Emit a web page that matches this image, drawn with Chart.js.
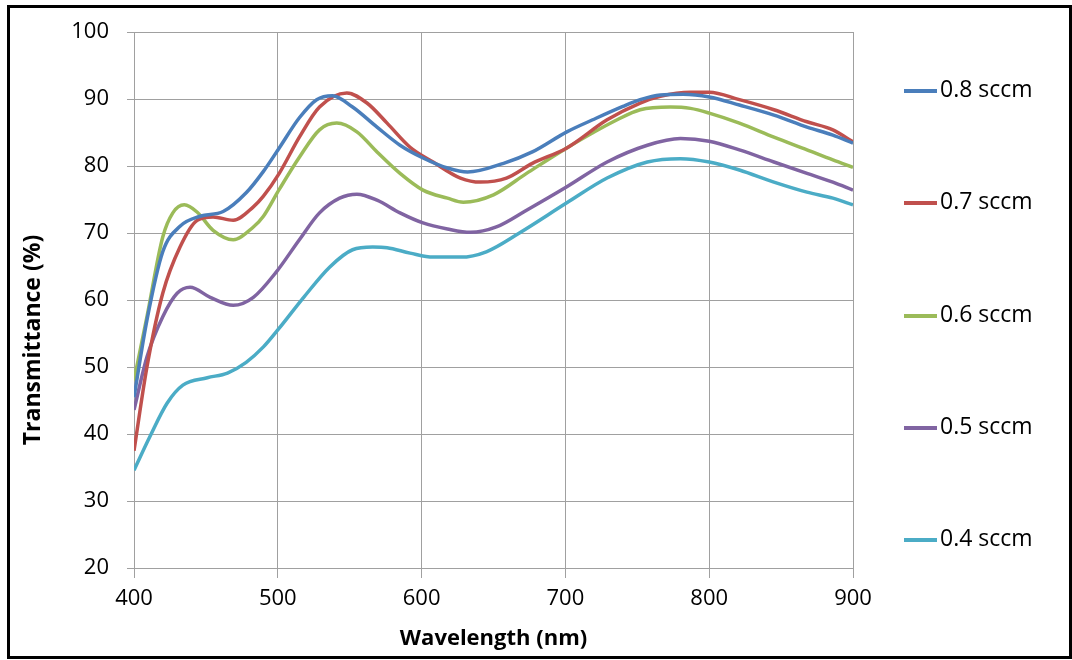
<!DOCTYPE html>
<html>
<head>
<meta charset="utf-8">
<script src="https://cdn.jsdelivr.net/npm/chart.js@4.4.1/dist/chart.umd.min.js"></script>
<style>
  body { margin: 0; background: #fff; font-family: "Open Sans", sans-serif; }
  #frame { position: absolute; left: 7px; top: 5px; width: 1059px; height: 648px; border: 3px solid #000; }
  #chart { position: absolute; left: 0; top: 0; }
  .leg { position: absolute; left: 904px; height: 30px; line-height: 30px; font-size: 23px; color: #000; white-space: nowrap; }
  .leg span.sw { display: inline-block; width: 33px; height: 4px; vertical-align: middle; margin-right: 3px; }
</style>
</head>
<body>
<div id="frame"><canvas id="chart" width="1059" height="648"></canvas></div>
<div id="legend"></div>
<script>
// series labels and colours
var labels = ['0.8 sccm', '0.7 sccm', '0.6 sccm', '0.5 sccm', '0.4 sccm'];
var colors = ['#4a7ebb', '#c0504d', '#9bbb59', '#8064a2', '#4bacc6'];

// wavelength (nm) / transmittance (%)
var wl08 = [400, 409, 420, 432, 446, 462, 478, 490, 501, 515, 527, 538, 552, 569, 585, 601, 618, 632, 657, 677, 701, 719, 740, 752, 766, 782, 800, 821, 845, 868, 886, 900];
var t08  = [45.5, 57, 67.2, 71, 72.5, 73.2, 76, 79.2, 82.7, 87.2, 89.9, 90.5, 88.8, 85.8, 83.1, 81.2, 79.7, 79.1, 80.4, 82.1, 85.1, 86.9, 88.9, 89.9, 90.6, 90.7, 90.3, 89.1, 87.6, 85.8, 84.6, 83.4];

var wl07 = [400, 409, 420, 432, 444, 455, 469, 483, 490, 501, 515, 529, 548, 562, 576, 592, 608, 627, 641, 659, 677, 701, 729, 752, 766, 787, 800, 821, 845, 868, 886, 900];
var t07  = [37.5, 50, 61, 67.9, 71.9, 72.4, 71.9, 73.9, 75.5, 78.9, 84.3, 88.8, 90.9, 89.4, 86.4, 82.8, 80.6, 78.2, 77.6, 78.2, 80.4, 82.7, 86.9, 89.4, 90.4, 91, 91, 89.9, 88.4, 86.6, 85.4, 83.6];

var wl06 = [400, 409, 420, 427, 435, 444, 455, 469, 483, 490, 501, 515, 529, 541, 555, 569, 585, 601, 618, 629, 650, 673, 701, 736, 752, 773, 787, 800, 821, 845, 868, 886, 900];
var t06  = [48, 57.5, 69.4, 73, 74.2, 73.1, 70.4, 69, 70.9, 72.5, 76.5, 81.3, 85.4, 86.4, 85.1, 82.1, 78.9, 76.4, 75.2, 74.6, 75.7, 78.9, 82.7, 86.9, 88.4, 88.8, 88.6, 87.9, 86.4, 84.3, 82.4, 80.9, 79.8];

var wl05 = [400, 409, 420, 430, 439, 453, 469, 483, 499, 515, 529, 543, 555, 569, 585, 601, 618, 634, 652, 673, 701, 729, 757, 780, 800, 821, 845, 868, 886, 900];
var t05  = [43.6, 51.5, 57.5, 61, 61.9, 60.4, 59.2, 60.4, 64.2, 69, 73, 75.2, 75.8, 74.9, 73, 71.5, 70.6, 70.1, 70.9, 73.4, 76.9, 80.6, 83.1, 84.1, 83.7, 82.4, 80.6, 78.9, 77.6, 76.4];

var wl04 = [400, 411, 423, 434, 451, 465, 478, 490, 501, 518, 536, 552, 566, 576, 592, 608, 627, 645, 668, 701, 729, 757, 780, 800, 821, 845, 868, 886, 900];
var t04  = [34.6, 39.6, 44.6, 47.3, 48.4, 49.1, 50.7, 53, 55.8, 60.4, 64.9, 67.5, 67.9, 67.8, 67, 66.4, 66.4, 67.2, 70, 74.5, 78.2, 80.6, 81.1, 80.6, 79.4, 77.6, 76.1, 75.2, 74.2];

var xTicks = [400, 500, 600, 700, 800, 900];
var yTicks = [20, 30, 40, 50, 60, 70, 80, 90, 100];
var yTitle = 'Transmittance (%)';

function pts(xs, ys) {
    var out = [];
    for (var i = 0; i < xs.length; i++) out.push({x: xs[i], y: ys[i]});
    return out;
}

var series = [pts(wl08, t08), pts(wl07, t07), pts(wl06, t06), pts(wl05, t05), pts(wl04, t04)];
var datasets = [];
for (var i = 0; i < series.length; i++) {
    datasets.push({
        label: labels[i],
        data: series[i],
        borderColor: colors[i],
        backgroundColor: colors[i],
        borderWidth: 3.5,
        pointRadius: 0,
        fill: false,
        cubicInterpolationMode: 'monotone'
    });
}

var gridColor = '#a0a0a0';
var tickFont = {family: 'Open Sans', size: 22};
var titleFont = {family: 'Open Sans', size: 22, weight: 'bold'};

// y axis title sits a bit below the middle of the plot, like the original
var yTitlePlugin = {
    id: 'yTitle',
    afterDraw: function (chart) {
        var s = chart.scales.y, ctx = chart.ctx;
        var cy = (chart.chartArea.top + chart.chartArea.bottom) / 2 + 40;
        ctx.save();
        ctx.translate(s.left + 13, cy);
        ctx.rotate(-Math.PI / 2);
        ctx.font = 'bold 23px "Open Sans"';
        ctx.fillStyle = '#000';
        ctx.textAlign = 'center';
        ctx.textBaseline = 'middle';
        ctx.fillText(yTitle, 0, 0);
        ctx.restore();
    }
};

new Chart(document.getElementById('chart'), {
    type: 'line',
    data: {datasets: datasets},
    plugins: [yTitlePlugin],
    options: {
        responsive: false,
        animation: false,
        layout: {padding: {left: 10, top: 24, right: 216, bottom: 4}},
        plugins: {legend: {display: false}, tooltip: {enabled: false}},
        scales: {
            x: {
                type: 'linear',
                min: 400, max: 900,
                afterBuildTicks: function (s) { s.ticks = xTicks.map(function (v) { return {value: v}; }); },
                afterFit: function (s) { s.height = 84; },
                grid: {color: gridColor, tickLength: 10, lineWidth: 1},
                border: {color: gridColor},
                ticks: {color: '#000', font: tickFont, padding: 8, maxRotation: 0},
                title: {display: true, text: 'Wavelength (nm)', color: '#000', font: titleFont, padding: 0}
            },
            y: {
                min: 20, max: 100,
                afterBuildTicks: function (s) { s.ticks = yTicks.map(function (v) { return {value: v}; }); },
                afterFit: function (s) { s.width = 114; s.paddingTop = 0; s.paddingBottom = 0; },
                grid: {color: gridColor, tickLength: 7, lineWidth: 1},
                border: {color: gridColor},
                ticks: {color: '#000', font: tickFont, padding: 18}
            }
        }
    }
});

// legend on the right, one entry per series
var legTop = [88, 200, 313, 425, 537];
var leg = document.getElementById('legend');
for (var j = 0; j < labels.length; j++) {
    var d = document.createElement('div');
    d.className = 'leg';
    d.style.top = (legTop[j] - 15) + 'px';
    d.innerHTML = '<span class="sw" style="background:' + colors[j] + '"></span>' + labels[j];
    leg.appendChild(d);
}
</script>
</body>
</html>
